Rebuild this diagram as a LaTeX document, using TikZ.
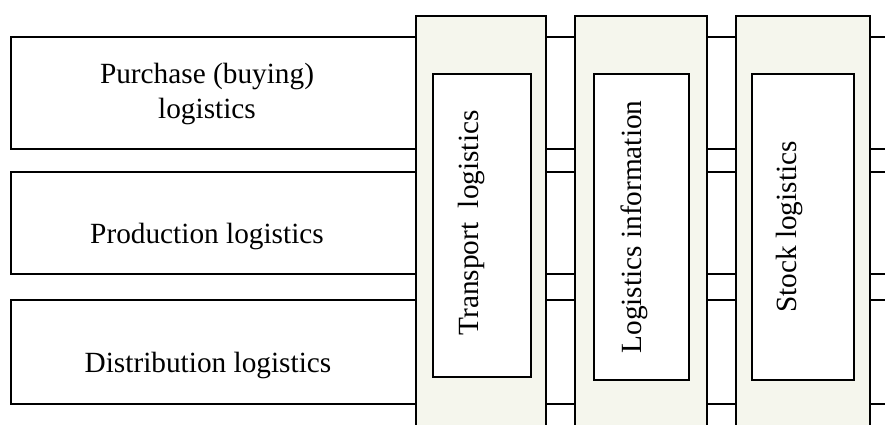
\documentclass[tikz,border=0pt]{standalone}
\usepackage{fontspec}
\setmainfont{Liberation Serif}
\definecolor{colgrey}{RGB}{245, 246, 237}

\begin{document}
\begin{tikzpicture}[x=1pt, y=-1pt,
    band/.style={draw, line width=1.4pt, inner sep=0pt, minimum width=889pt},
    column/.style={draw, line width=1.4pt, fill=colgrey, inner sep=0pt, minimum height=424pt},
    innerbox/.style={draw, line width=1.4pt, fill=white, inner sep=0pt},
    lbl/.style={font=\fontsize{29.3}{35}\selectfont, align=center, inner sep=0pt},
    vlbl/.style={lbl, rotate=90}]
    \useasboundingbox (0,0) rectangle (885,424);
    \clip (0,0) rectangle (885,424);

    % horizontal bands
    \node[band, minimum height=112pt] (purchase) at (455.5,93) {};
    \node[band, minimum height=102pt] (production) at (455.5,223) {};
    \node[band, minimum height=104pt] (distribution) at (455.5,352) {};

    \node[lbl] (purchasetext) at (207,94) {Purchase (buying)\\logistics};
    \node[lbl] (productiontext) at (207,236) {Production logistics};
    \node[lbl] (distributiontext) at (208,365) {Distribution logistics};

    % vertical columns
    \node[column, minimum width=130pt] (transport) at (481,228) {};
    \node[column, minimum width=132pt] (information) at (641,228) {};
    \node[column, minimum width=134pt] (stock) at (803,228) {};

    \node[innerbox, minimum width=98pt, minimum height=303pt] (transportbox) at (482,225.5) {};
    \node[innerbox, minimum width=95pt, minimum height=306pt] (informationbox) at (641.5,227) {};
    \node[innerbox, minimum width=102pt, minimum height=306pt] (stockbox) at (803,227) {};

    \node[vlbl] (transporttext) at (471.5,223) {Transport\ \ logistics};
    \node[vlbl] (informationtext) at (634.5,227) {Logistics information};
    \node[vlbl] (stocktext) at (789,227) {Stock logistics};
\end{tikzpicture}
\end{document}
